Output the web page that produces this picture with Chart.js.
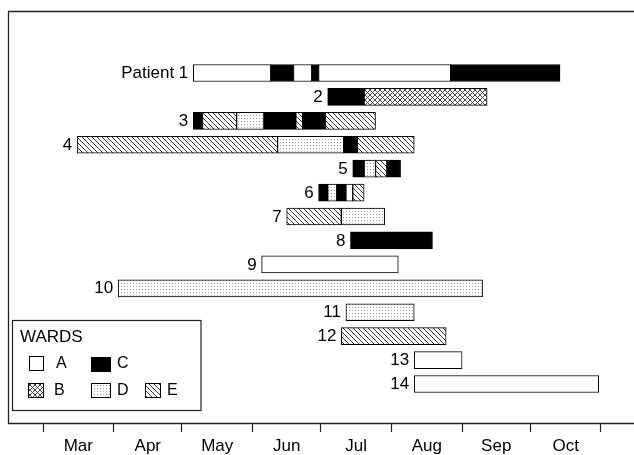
<!DOCTYPE html>
<html><head><meta charset="utf-8">
<script src="https://cdn.jsdelivr.net/npm/chart.js@4/dist/chart.umd.min.js"></script>
<style>html,body{margin:0;padding:0;background:#fff}#wrap{width:634px;height:455px}</style>
</head><body><div id="wrap"><canvas id="c" width="634" height="455"></canvas></div>
<script>
// Row labels (row 1 = top)
const rowLabels = ['Patient 1','2','3','4','5','6','7','8','9','10','11','12','13','14'];
// Ward stays: [row, startDay, endDay], days counted from 1 March
const wardA = [[1,66,100],[1,110,118],[1,121,179],[6,133,136],[9,96,156],[13,163,184],[14,163,244]];
const wardB = [[2,141,195]];
const wardC = [[1,100,110],[1,118,121],[1,179,227],[2,125,141],[3,66,70],[3,97,111],[3,114,124],[4,132,138],[5,136,141],[5,151,157],[6,121,125],[6,129,133],[8,135,171]];
const wardD = [[3,85,97],[4,103,132],[5,141,146],[6,125,129],[7,131,150],[10,33,193],[11,133,163]];
const wardE = [[3,70,85],[3,111,114],[3,124,146],[4,15,103],[4,138,163],[5,146,151],[6,136,141],[7,107,131],[12,131,177]];
const wardNames = ['A','B','C','D','E'];
const monthLabels = ['Mar','Apr','May','Jun','Jul','Aug','Sep','Oct'];
const monthStarts = [0,31,61,92,122,153,184,214,245];

const FONT = '"Liberation Sans", Arial, Helvetica, sans-serif';

function makePattern(type){
  const s = (type==='D') ? 3 : 5;
  const cv = document.createElement('canvas');
  cv.width = s; cv.height = s;
  const g = cv.getContext('2d');
  g.fillStyle = '#fff'; g.fillRect(0,0,cv.width,cv.height);
  if (type==='C'){ g.fillStyle='#000'; g.fillRect(0,0,cv.width,cv.height); }
  else if (type==='D'){ g.fillStyle='#a0a0a0'; g.fillRect(1,1,1,1); }
  else if (type==='E' || type==='B'){
    g.strokeStyle = type==='B' ? '#333' : '#222'; g.lineWidth = 0.9;
    g.beginPath();
    g.moveTo(-1,-1); g.lineTo(s+1,s+1);
    g.moveTo(-1,s-1); g.lineTo(1,s+1);
    g.moveTo(s-1,-1); g.lineTo(s+1,1);
    if (type==='B'){
      g.moveTo(s+1,-1); g.lineTo(-1,s+1);
      g.moveTo(1,-1); g.lineTo(-1,1);
      g.moveTo(s+1,s-1); g.lineTo(s-1,s+1);
    }
    g.stroke();
  }
  return g.createPattern(cv,'repeat');
}
const fills = {A:makePattern('A'),B:makePattern('B'),C:makePattern('C'),D:makePattern('D'),E:makePattern('E')};
const wardData = {A:wardA,B:wardB,C:wardC,D:wardD,E:wardE};

const datasets = wardNames.map(w => ({
  label: w,
  data: wardData[w].map(([r,s,e]) => ({y:r, x:[s,e]})),
  backgroundColor: fills[w],
  borderColor: '#000',
  borderWidth: 1,
  borderSkipped: false,
  barThickness: 17,
  grouped: false
}));

const mids = monthStarts.slice(0,-1).map((s,i)=>(s+monthStarts[i+1])/2);
const allTicks = monthStarts.concat(mids).sort((a,b)=>a-b);

const framePlugin = {
  id:'frame',
  afterDraw(chart){
    const {ctx, chartArea:a} = chart;
    ctx.save();
    ctx.strokeStyle = '#222'; ctx.lineWidth = 1.3;
    ctx.beginPath();
    ctx.moveTo(a.right+2, a.top+0.5); ctx.lineTo(a.left+0.5, a.top+0.5);
    ctx.lineTo(a.left+0.5, a.bottom+0.5); ctx.lineTo(a.right+2, a.bottom+0.5);
    ctx.stroke();
    ctx.restore();
  }
};

const rowLabelPlugin = {
  id:'rowLabels',
  afterDatasetsDraw(chart){
    const {ctx} = chart; const xs = chart.scales.x, ys = chart.scales.y;
    ctx.save();
    ctx.fillStyle = '#000'; ctx.font = '17px ' + FONT;
    ctx.textAlign = 'right'; ctx.textBaseline = 'middle';
    const all = [].concat(wardA,wardB,wardC,wardD,wardE);
    rowLabels.forEach((lab,i) => {
      const row = i+1;
      const start = Math.min(...all.filter(d=>d[0]===row).map(d=>d[1]));
      ctx.fillText(lab, xs.getPixelForValue(start)-5, ys.getPixelForValue(row)+0.5);
    });
    ctx.restore();
  }
};

const legendPlugin = {
  id:'wardsLegend',
  afterDraw(chart){
    const ctx = chart.ctx;
    ctx.save();
    ctx.fillStyle = '#fff'; ctx.fillRect(13,320,188,90);
    ctx.strokeStyle = '#222'; ctx.lineWidth = 1.2; ctx.strokeRect(12.5,320.5,188.5,90);
    ctx.fillStyle = '#000'; ctx.font = '17px ' + FONT; ctx.textBaseline = 'middle'; ctx.textAlign='left';
    ctx.fillText('WARDS', 20, 337);
    const items = [
      {w:'A', x:29, y:356, wd:15, tx:56, ty:364},
      {w:'C', x:91, y:357, wd:20, tx:117, ty:364},
      {w:'B', x:28, y:383, wd:16, tx:54, ty:391},
      {w:'D', x:91, y:383, wd:20, tx:117, ty:391},
      {w:'E', x:145, y:383, wd:16, tx:167, ty:391}
    ];
    items.forEach(it => {
      ctx.fillStyle = fills[it.w]; ctx.fillRect(it.x, it.y, it.wd, 15);
      ctx.strokeStyle = '#000'; ctx.lineWidth = 1; ctx.strokeRect(it.x+0.5, it.y+0.5, it.wd-1, 14);
      ctx.fillStyle = '#000'; ctx.font = '16px ' + FONT;
      ctx.fillText(it.w, it.tx, it.ty);
    });
    ctx.restore();
  }
};

new Chart(document.getElementById('c'), {
  type:'bar',
  data:{ datasets },
  plugins:[framePlugin,rowLabelPlugin,legendPlugin],
  options:{
    responsive:false, animation:false, indexAxis:'y',
    layout:{padding:{left:8,top:11,right:0,bottom:0}},
    plugins:{legend:{display:false}, tooltip:{enabled:false}},
    scales:{
      x:{
        type:'linear', min:-15.37, max:259.49, bounds:'data', position:'bottom', offset:false,
        afterBuildTicks: ax => { ax.ticks = allTicks.map(v=>({value:v})); },
        afterFit: ax => { ax.height = 32; },
        ticks:{
          autoSkip:false, maxRotation:0, minRotation:0, padding:4, color:'#000',
          font:{family:FONT, size:17},
          callback:(v)=>{ const i = mids.indexOf(v); return i>=0 ? monthLabels[i] : ''; }
        },
        grid:{
          drawOnChartArea:false, drawTicks:true, tickLength:9, tickWidth:1.2,
          tickColor: c => (c.tick && monthStarts.includes(c.tick.value)) ? '#222' : 'rgba(0,0,0,0)'
        },
        border:{display:false}
      },
      y:{type:'linear', reverse:true, min:-1.59, max:15.63, bounds:'data', offset:false, display:false}
    }
  }
});
</script></body></html>
